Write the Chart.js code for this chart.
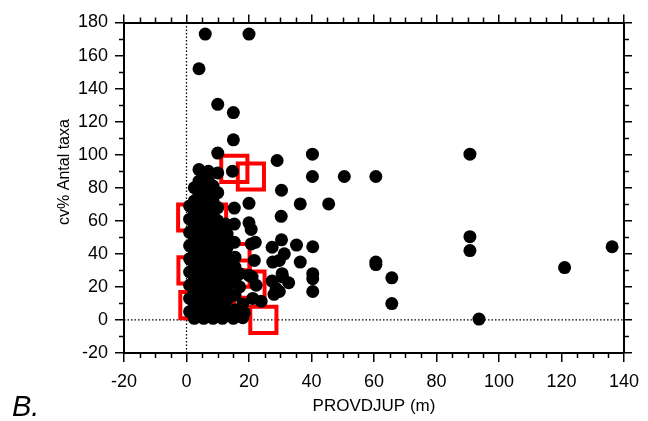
<!DOCTYPE html>
<html>
<head>
<meta charset="utf-8">
<script src="https://cdn.jsdelivr.net/npm/chart.js@4.4.1/dist/chart.umd.min.js"></script>
<style>
  html, body { margin: 0; padding: 0; background: #fff; }
  #chart { display: block; }
</style>
</head>
<body>
<canvas id="chart" width="648" height="421"></canvas>
<script>
// scattered samples (depth m, cv%)
const depthSparse = [6, 20, 4, 10, 15, 15, 10, 29, 40.3, 40.3, 50.5, 60.6, 90.7, 36.4, 45.5, 30.4, 30.3, 30.4, 35.2, 40.4,
  90.7, 90.7, 136.2, 121, 36.4, 60.6, 60.6, 30.6, 32.7, 40.4, 40.4, 40.4, 65.7, 65.7, 93.6, 29.7, 29.7, 20, 15.3, 20,
  15.3, 20.7, 22, 15.3, 27.4, 27.6, 21.7, 21, 22.3, 27.4, 28.7, 28, 21.2, 23.9, 18, 18.5, 18, 15, 31.3, 20, 30.7, 20.7];
const cvSparse = [173, 173, 152, 130.5, 125.5, 109, 101, 96.5, 100.3, 86.8, 86.8, 86.8, 100.3, 70.2, 70.2, 78.5, 62.7, 48.5, 45.3, 44.3,
  50.4, 42, 44.3, 31.7, 35, 35, 33.5, 28, 22.5, 28, 25, 17.2, 25.5, 9.9, 0.5, 17.2, 36, 70.6, 67.7, 58.8,
  58, 54.8, 47, 47, 44, 35, 36, 26, 21, 23.5, 19, 15.5, 13, 11.3, 9.5, 4.3, 1.4, 1, 40, 27, 26, 46];

// dense cluster of shallow samples, per depth column
const clusterDepths = [1, 2.5, 4, 5.5, 7, 8.5, 10, 11.5, 12.5, 13, 14.7, 15.5, 17];
const clusterCv = [
  [5, 13, 21, 29, 37, 45, 53, 61, 69],
  [1, 9, 17, 25, 33, 41, 49, 57, 65, 72, 80],
  [4, 12, 20, 28, 36, 44, 52, 60, 68, 76, 84, 91],
  [1, 8, 16, 24, 32, 40, 48, 56, 64, 72, 80, 87],
  [4, 12, 20, 28, 36, 44, 52, 60, 68, 76, 84, 90],
  [1, 8, 16, 24, 32, 40, 48, 56, 64, 72, 81],
  [4, 12, 20, 28, 36, 44, 52, 60, 68, 77, 89],
  [1, 8, 16, 24, 32, 40, 48, 56],
  [6, 18, 30, 42, 58],
  [4, 12, 20, 28, 36, 44, 52],
  [90],
  [6, 15, 24, 32, 38],
  [20, 28]
];

// highlighted samples (red squares)
const depthRed = [15.3, 20.6, 1.5, 8.5, 1.6, 2.2, 11, 16, 16, 20.8, 24.6, 8];
const cvRed = [91.4, 86.8, 62, 62, 30, 9, 9.5, 38, 28, 21.4, 0, 40];

const xTicks = [-20, 0, 20, 40, 60, 80, 100, 120, 140];
const yTicks = [-20, 0, 20, 40, 60, 80, 100, 120, 140, 160, 180];

const blackPts = depthSparse.map((d, i) => ({ x: d, y: cvSparse[i] }));
clusterDepths.forEach((d, i) => {
  clusterCv[i].forEach(v => blackPts.push({ x: d, y: v }));
});
const redPts = depthRed.map((d, i) => ({ x: d, y: cvRed[i] }));

const FONT = "'Liberation Sans', Arial, sans-serif";

// minor tick marks on all four sides, y title and panel letter
const frameExtras = {
  id: "frameExtras",
  afterDraw(chart) {
    const { ctx, chartArea: a } = chart;
    const xs = chart.scales.x, ys = chart.scales.y;
    ctx.save();
    ctx.strokeStyle = "#000";
    ctx.lineWidth = 1.5;
    ctx.beginPath();
    for (let v = -20; v <= 140; v += 5) {
      if (v % 20 === 0) continue;
      const px = Math.round(xs.getPixelForValue(v)) + 0.5;
      ctx.moveTo(px, a.bottom); ctx.lineTo(px, a.bottom + 5);
      ctx.moveTo(px, a.top); ctx.lineTo(px, a.top - 5);
    }
    for (let v = -20; v <= 180; v += 10) {
      if (v % 20 === 0) continue;
      const py = Math.round(ys.getPixelForValue(v)) + 0.5;
      ctx.moveTo(a.left, py); ctx.lineTo(a.left - 5, py);
      ctx.moveTo(a.right, py); ctx.lineTo(a.right + 5, py);
    }
    ctx.stroke();
    ctx.fillStyle = "#000";

    ctx.save();
    ctx.translate(65, 172);
    ctx.rotate(-Math.PI / 2);
    ctx.font = "16px " + FONT;
    ctx.textAlign = "center";
    ctx.textBaseline = "middle";
    ctx.fillText("cv% Antal taxa", 0, 0);
    ctx.restore();

    ctx.font = "italic 29px " + FONT;
    ctx.textBaseline = "alphabetic";
    ctx.fillText("B.", 12, 416);
    ctx.restore();
  }
};

const axisGrid = { display: true, drawOnChartArea: false, drawTicks: true, tickLength: 9, color: "#000", lineWidth: 1.5 };
const axisBorder = { display: true, color: "#000", width: 2 };

new Chart(document.getElementById("chart"), {
  type: "scatter",
  data: {
    datasets: [
      {
        label: "cv%",
        data: blackPts,
        backgroundColor: "#000",
        borderColor: "#000",
        borderWidth: 0,
        pointRadius: 6.5,
        order: 0
      },
      {
        label: "marked",
        data: redPts,
        pointStyle: "rect",
        backgroundColor: "rgba(0,0,0,0)",
        borderColor: "#ff0000",
        borderWidth: 4,
        pointRadius: 18.5,
        order: 1
      },
      {
        type: "line",
        label: "x0",
        data: [{ x: 0, y: -20 }, { x: 0, y: 180 }],
        borderColor: "#000",
        borderWidth: 1.3,
        borderDash: [1.5, 2],
        pointRadius: 0,
        order: 2
      },
      {
        type: "line",
        label: "y0",
        data: [{ x: -20, y: 0 }, { x: 140, y: 0 }],
        borderColor: "#000",
        borderWidth: 1.3,
        borderDash: [1.5, 2],
        pointRadius: 0,
        order: 2
      }
    ]
  },
  options: {
    responsive: false,
    animation: false,
    layout: { padding: 0 },
    plugins: { legend: { display: false }, tooltip: { enabled: false } },
    scales: {
      x: {
        type: "linear",
        position: "bottom",
        min: -20,
        max: 140,
        afterBuildTicks: s => { s.ticks = xTicks.map(v => ({ value: v })); },
        afterFit: s => { s.height = 68; },
        ticks: { color: "#000", font: { family: FONT, size: 18 }, padding: 9, maxRotation: 0 },
        grid: axisGrid,
        border: axisBorder,
        title: { display: true, text: "PROVDJUP (m)", color: "#000", font: { family: FONT, size: 17 }, padding: { top: 0, bottom: 4 } }
      },
      y: {
        type: "linear",
        position: "left",
        min: -20,
        max: 180,
        afterBuildTicks: s => { s.ticks = yTicks.map(v => ({ value: v })); },
        afterFit: s => { s.width = 124; },
        ticks: { color: "#000", font: { family: FONT, size: 18 }, padding: 7 },
        grid: axisGrid,
        border: axisBorder,
        title: { display: false }
      },
      x2: {
        type: "linear",
        position: "top",
        min: -20,
        max: 140,
        afterBuildTicks: s => { s.ticks = xTicks.map(v => ({ value: v })); },
        afterFit: s => { s.height = 15; },
        ticks: { display: false },
        grid: Object.assign({}, axisGrid, { tickLength: 8 }),
        border: axisBorder
      },
      y2: {
        type: "linear",
        position: "right",
        min: -20,
        max: 180,
        afterBuildTicks: s => { s.ticks = yTicks.map(v => ({ value: v })); },
        afterFit: s => { s.width = 20; },
        ticks: { display: false },
        grid: Object.assign({}, axisGrid, { tickLength: 8 }),
        border: axisBorder
      }
    }
  },
  plugins: [frameExtras]
});
</script>
</body>
</html>
